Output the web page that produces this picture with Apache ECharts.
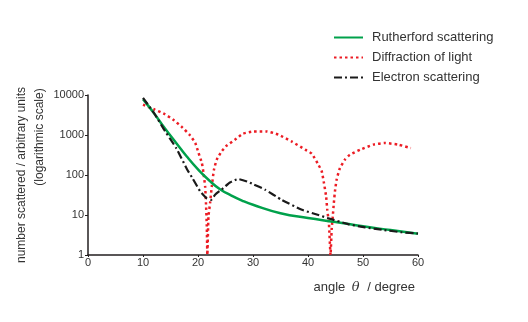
<!DOCTYPE html>
<html>
<head>
<meta charset="utf-8">
<script src="https://cdn.jsdelivr.net/npm/echarts@6/dist/echarts.min.js"></script>
<style>html,body{margin:0;padding:0;background:#fff}#c{width:528px;height:322px}</style>
</head>
<body>
<div id="c"></div>
<script>
const seriesNames = ['Rutherford scattering', 'Diffraction of light', 'Electron scattering'];
const xTicks = [0, 10, 20, 30, 40, 50, 60];
const yTicks = [1, 10, 100, 1000, 10000];

const rutherfordAngles = [10, 12, 14, 16, 18, 20, 22, 24, 26, 28, 30, 35, 40, 45, 50, 55, 60];
const rutherfordValues = [7900, 3500, 1450, 640, 285, 138, 74, 44, 31, 23, 18, 11.1, 8.4, 6.7, 5.2, 4.2, 3.4];

const lightAngles = [10, 12, 14, 15.5, 17, 18.5, 19.5, 20.1, 20.7, 21.0, 21.3, 21.45, 21.6, 21.7,
  21.9, 22.2, 22.5, 22.9, 23.4, 24.3, 25.2, 26.7, 28.2, 30.1, 32.5, 34.6, 37, 39.5, 40.7, 41.9,
  42.5, 42.9, 43.3, 43.5, 43.8, 44.1, 44.3, 44.5, 44.7, 44.9, 45.2, 45.8, 46.7, 47.6, 49.5, 51.9,
  54, 56.4, 58.7];
const lightValues = [5750, 4400, 3300, 2400, 1620, 1000, 630, 355, 200, 112, 51, 20, 5.1, 1,
  9.1, 20, 51, 135, 240, 390, 540, 760, 1080, 1230, 1230, 1020, 690, 430, 340, 180,
  123, 63, 29, 13.5, 6.3, 1, 4.3, 9.1, 20, 39, 76, 148, 240, 320, 430, 575,
  630, 575, 470];

const electronAngles = [10, 12, 14, 16, 18, 19, 20.4, 21.6, 22.4, 23.1, 24.6, 25.8, 27.3, 28.9, 30,
  32.2, 35.2, 38.9, 41.9, 43.7, 47.3, 50.4, 53.4, 57, 60];
const electronValues = [8500, 3550, 1250, 480, 140, 83, 39, 26, 24, 32, 47, 65, 79, 69, 59,
  43, 24, 13.5, 10, 8.3, 5.9, 4.9, 4.3, 3.7, 3.45];

function pairs(xs, ys) { return xs.map((x, i) => [x, ys[i]]); }

const chart = echarts.init(document.getElementById('c'), null, { renderer: 'canvas' });
const font = 'Liberation Sans, Arial, sans-serif';
chart.setOption({
  animation: false,
  textStyle: { fontFamily: font },
  grid: { left: 88, right: 110, top: 95, bottom: 67, outerBoundsMode: 'none', containLabel: false },
  legend: {
    orient: 'vertical',
    left: 328,
    top: 26,
    itemWidth: 29,
    itemHeight: 14,
    itemGap: 7,
    itemStyle: { opacity: 0 },
    textStyle: { fontSize: 13, color: '#333', fontFamily: font, padding: [0, 0, 0, 4] },
    data: seriesNames
  },
  xAxis: {
    type: 'value',
    min: xTicks[0],
    max: xTicks[xTicks.length - 1],
    interval: 10,
    name: 'angle {i|θ} / degree',
    nameLocation: 'end',
    nameGap: -3,
    nameMoveOverlap: false,
    nameTextStyle: {
      fontSize: 13, color: '#333', align: 'right', verticalAlign: 'top', padding: [26, 0, 0, 0],
      rich: { i: { fontFamily: 'DejaVu Serif, serif', fontStyle: 'italic', fontSize: 13, color: '#333', padding: [0, 4, 0, 3] } }
    },
    axisLine: { lineStyle: { color: '#231f20', width: 1.5 } },
    axisTick: { show: true, length: 2, lineStyle: { color: '#231f20' } },
    axisLabel: { fontSize: 11, color: '#333', margin: 2 },
    splitLine: { show: false }
  },
  yAxis: {
    type: 'log',
    logBase: 10,
    min: yTicks[0],
    max: yTicks[yTicks.length - 1],
    name: 'number scattered / arbitrary units\n{b|(logarithmic scale)}',
    nameLocation: 'middle',
    nameGap: 39,
    nameMoveOverlap: false,
    nameTextStyle: {
      fontSize: 12, color: '#333', lineHeight: 18,
      rich: { b: { fontSize: 12, color: '#333', lineHeight: 18, padding: [0, 0, 0, 76] } }
    },
    axisLine: { show: true, lineStyle: { color: '#231f20', width: 1.5 } },
    axisTick: { show: true, length: 3, lineStyle: { color: '#231f20' } },
    axisLabel: { fontSize: 11, color: '#333', margin: 4, formatter: v => String(Math.round(v)) },
    splitLine: { show: false }
  },
  series: [
    {
      name: seriesNames[0], type: 'line', symbol: 'none', smooth: true,
      data: pairs(rutherfordAngles, rutherfordValues),
      lineStyle: { color: '#00a14b', width: 2.5 }, itemStyle: { color: '#00a14b' }, z: 3
    },
    {
      name: seriesNames[1], type: 'line', symbol: 'none', smooth: 0.15,
      data: pairs(lightAngles, lightValues),
      lineStyle: { color: '#ec1c24', width: 2.5, type: [2.5, 3] }, itemStyle: { color: '#ec1c24' }, z: 2
    },
    {
      name: seriesNames[2], type: 'line', symbol: 'none', smooth: 0.15,
      data: pairs(electronAngles, electronValues),
      lineStyle: { color: '#1a1a1a', width: 2.2, type: [8, 3, 2, 3] }, itemStyle: { color: '#1a1a1a' }, z: 4
    }
  ]
});
</script>
</body>
</html>
